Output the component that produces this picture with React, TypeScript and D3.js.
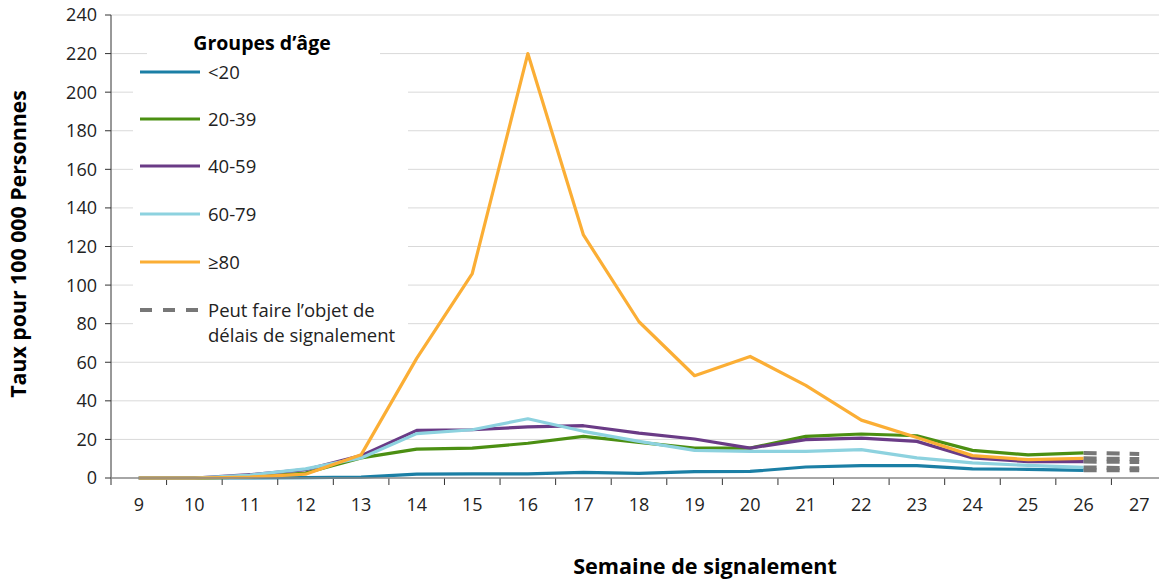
import * as d3 from 'd3';

const weeks = [9, 10, 11, 12, 13, 14, 15, 16, 17, 18, 19, 20, 21, 22, 23, 24, 25, 26, 27];
const dataWeeks = [9, 10, 11, 12, 13, 14, 15, 16, 17, 18, 19, 20, 21, 22, 23, 24, 25, 26];
const yTicks = [0, 20, 40, 60, 80, 100, 120, 140, 160, 180, 200, 220, 240];

const under20 = [0, 0, 0, 0.2, 0.5, 2, 2.1, 2.1, 2.9, 2.4, 3.3, 3.4, 5.7, 6.4, 6.4, 4.7, 4.5, 4];
const age20to39 = [0, 0, 0.5, 2.6, 10.4, 15, 15.5, 18, 21.6, 18.5, 15.5, 15.5, 21.6, 22.8, 21.9, 14.3, 12, 13];
const age40to59 = [0, 0, 1.7, 4.3, 11.6, 24.7, 25, 26.5, 27.1, 23.3, 20.2, 15.5, 19.9, 20.7, 19, 10.4, 8.5, 8.5];
const age60to79 = [0, 0, 1.5, 4.7, 10.4, 23, 25, 30.7, 24.2, 19, 14.3, 13.8, 13.8, 14.7, 10.4, 7.8, 6.5, 5.5];
const age80plus = [0, 0, 0.5, 2, 12, 62, 106, 220, 126, 81, 53, 63, 48, 30, 21, 11.6, 9.5, 10.2];
// week 27 values (reporting delays, dashed)
const lastWeek = [4, 12.5, 8.3, 5, 9.8];

const series = [
  { name: '<20', color: '#1b7fa5', values: under20 },
  { name: '20-39', color: '#4b8f12', values: age20to39 },
  { name: '40-59', color: '#6a3b86', values: age40to59 },
  { name: '60-79', color: '#8dd2df', values: age60to79 },
  { name: '≥80', color: '#fbae35', values: age80plus },
];

const font = '"Open Sans", sans-serif';

export default function App() {
  const width = 1159;
  const height = 582;
  const left = 111;
  const right = 1167;
  const top = 15;
  const bottom = 478;

  const x = d3.scaleBand<number>().domain(weeks).range([left, right]).padding(0);
  const cx = (w: number) => (x(w) as number) + x.bandwidth() / 2;
  const y = d3.scaleLinear().domain([0, 240]).range([bottom, top]);

  const line = d3
    .line<number>()
    .x((_, i) => cx(dataWeeks[i]))
    .y((d) => y(d));

  const legendRows = [72, 119, 166, 214, 262];

  return (
    <svg
      width={width}
      height={height}
      style={{ position: 'absolute', left: 0, top: 0, background: '#fff' }}
      fontFamily={font}
    >
      {/* grid */}
      {yTicks.slice(1).map((t) => (
        <line key={t} x1={left} x2={width} y1={y(t)} y2={y(t)} stroke="#d9d9d9" strokeWidth={1} />
      ))}

      {/* legend background */}
      <rect x={147} y={28} width={233} height={34} fill="#fff" />
      <rect x={133} y={62} width={275} height={290} fill="#fff" />

      {/* axes */}
      <line x1={left} x2={left} y1={top} y2={bottom} stroke="#333" strokeWidth={1} />
      {yTicks.map((t) => (
        <g key={t}>
          <line x1={left - 6} x2={left} y1={y(t)} y2={y(t)} stroke="#333" />
          <text x={97} y={y(t)} dy="0.36em" textAnchor="end" fontSize={18} fill="#222">
            {t}
          </text>
        </g>
      ))}
      {weeks.map((w) => (
        <g key={w}>
          <line x1={x(w) as number} x2={x(w) as number} y1={bottom} y2={bottom + 7} stroke="#333" />
          <text x={cx(w)} y={505} dy="0.36em" textAnchor="middle" fontSize={18} fill="#222">
            {w}
          </text>
        </g>
      ))}

      {/* series */}
      {series.map((s) => (
        <path key={s.name} d={line(s.values) || ''} fill="none" stroke={s.color} strokeWidth={3.2} strokeLinejoin="round" />
      ))}
      {series.map((s, i) => (
        <line
          key={s.name + '-d'}
          x1={cx(26)}
          x2={cx(27)}
          y1={y(s.values[s.values.length - 1])}
          y2={y(lastWeek[i])}
          stroke="#777"
          strokeWidth={4}
          strokeDasharray="13 10"
        />
      ))}
      <line x1={left} x2={width} y1={bottom} y2={bottom} stroke="#888" strokeWidth={1.5} />

      {/* legend */}
      <text x={262} y={43} dy="0.36em" textAnchor="middle" fontSize={19.5} fontWeight="bold" fill="#000">
        Groupes d’âge
      </text>
      {series.map((s, i) => (
        <g key={s.name + '-l'}>
          <line x1={140} x2={200} y1={legendRows[i]} y2={legendRows[i]} stroke={s.color} strokeWidth={3.2} />
          <text x={208} y={legendRows[i]} dy="0.36em" fontSize={18.5} fill="#222">
            {s.name}
          </text>
        </g>
      ))}
      <line x1={140} x2={200} y1={310} y2={310} stroke="#777" strokeWidth={4} strokeDasharray="12 11" />
      <text x={208} y={310} dy="0.36em" fontSize={18.5} fill="#222">
        Peut faire l’objet de
      </text>
      <text x={208} y={335} dy="0.36em" fontSize={18.5} fill="#222">
        délais de signalement
      </text>

      {/* axis titles */}
      <text
        transform={`translate(18, 244) rotate(-90)`}
        textAnchor="middle"
        dy="0.36em"
        fontSize={21.3}
        fontWeight="bold"
        fill="#000"
      >
        Taux pour 100 000 Personnes
      </text>
      <text x={705} y={566} dy="0.36em" textAnchor="middle" fontSize={21.6} fontWeight="bold" fill="#000">
        Semaine de signalement
      </text>
    </svg>
  );
}
